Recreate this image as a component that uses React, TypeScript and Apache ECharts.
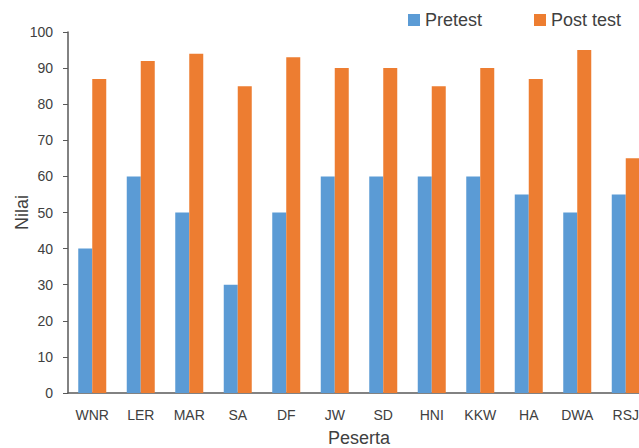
import React, { useEffect, useRef } from "react";
import * as echarts from "echarts";

const categories = ["WNR", "LER", "MAR", "SA", "DF", "JW", "SD", "HNI", "KKW", "HA", "DWA", "RSJ"];
const pretest = [40, 60, 50, 30, 50, 60, 60, 60, 60, 55, 50, 55];
const posttest = [87, 92, 94, 85, 93, 90, 90, 85, 90, 87, 95, 65];
const seriesNames = ["Pretest", "Post test"];

const FONT = "'Liberation Sans', Arial, sans-serif";
const TEXT = "#404040";

export default function App() {
  const ref = useRef<HTMLDivElement>(null);
  useEffect(() => {
    const chart = echarts.init(ref.current!, null, { renderer: "svg", width: 639, height: 448 });
    chart.setOption({
      animation: false,
      backgroundColor: "#ffffff",
      textStyle: { fontFamily: FONT },
      legend: {
        left: 403,
        top: 6,
        itemWidth: 12,
        itemHeight: 12,
        itemGap: 52,
        icon: "rect",
        textStyle: { fontSize: 18, color: TEXT, fontFamily: FONT },
        data: seriesNames,
      },
      grid: {
        left: 68,
        top: 32,
        height: 361,
        width: 582,
        containLabel: false,
        outerBoundsMode: "none",
      },
      xAxis: {
        type: "category",
        data: categories,
        name: "Peserta",
        nameLocation: "middle",
        nameGap: 36,
        nameMoveOverlap: false,
        nameTextStyle: { fontSize: 18, color: TEXT, fontFamily: FONT },
        axisLine: { lineStyle: { color: "#595959", width: 1.5 } },
        axisTick: { show: false },
        axisLabel: { fontSize: 14, color: TEXT, margin: 15, fontFamily: FONT },
      },
      yAxis: {
        type: "value",
        min: 0,
        max: 100,
        interval: 10,
        name: "Nilai",
        nameLocation: "middle",
        nameGap: 37,
        nameRotate: 90,
        nameMoveOverlap: false,
        nameTextStyle: { fontSize: 18, color: TEXT, fontFamily: FONT },
        axisLine: { show: true, lineStyle: { color: "#595959", width: 1.5 } },
        axisTick: { show: true, length: 5, lineStyle: { color: "#595959" } },
        axisLabel: { fontSize: 14, color: TEXT, margin: 15, fontFamily: FONT },
        splitLine: { show: false },
      },
      series: [
        {
          name: seriesNames[0],
          type: "bar",
          data: pretest,
          barWidth: 14,
          barGap: "0%",
          itemStyle: { color: "#5B9BD5" },
        },
        {
          name: seriesNames[1],
          type: "bar",
          data: posttest,
          barWidth: 14,
          barGap: "0%",
          itemStyle: { color: "#ED7D31" },
        },
      ],
    });
    return () => chart.dispose();
  }, []);
  return (
    <div
      style={{
        position: "fixed",
        left: 0,
        top: 0,
        width: 639,
        height: 448,
        overflow: "hidden",
        background: "#ffffff",
      }}
    >
      <div ref={ref} style={{ width: 639, height: 448, overflow: "hidden" }} />
    </div>
  );
}
